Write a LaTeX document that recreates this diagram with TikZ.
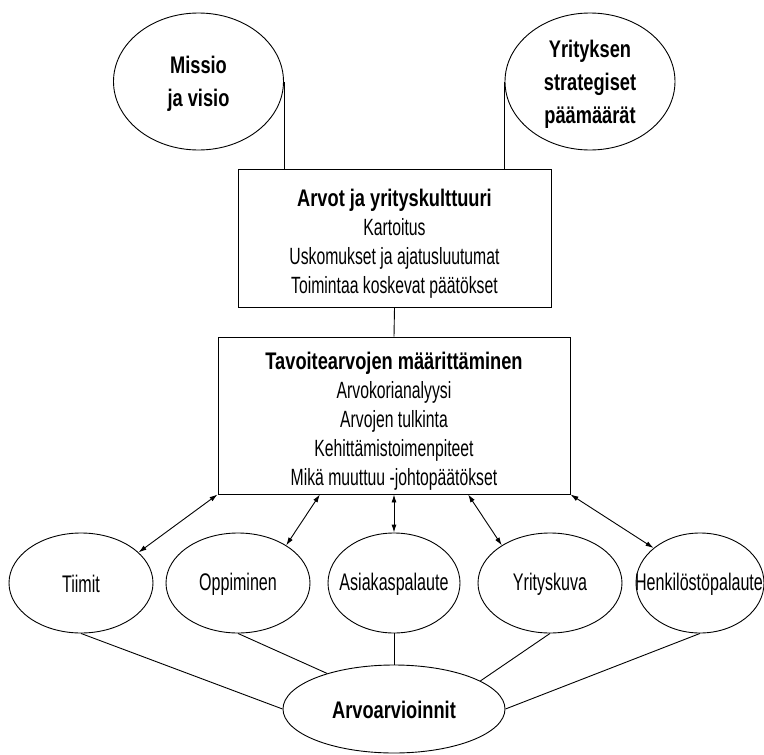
\documentclass[tikz,border=0pt]{standalone}
\usepackage{fontspec}
\setmainfont[FakeStretch=0.67, BoldFeatures={FakeStretch=0.76}]{Liberation Sans}
\usetikzlibrary{shapes.geometric,arrows.meta,calc}
\begin{document}
\begin{tikzpicture}[x=1pt,y=-1pt,
  every node/.style={inner sep=0pt},
  oval/.style={draw, ellipse, line width=0.9pt},
  box/.style={draw, rectangle, line width=0.9pt},
  boxtext/.style={align=center, font=\fontsize{23.5}{29}\selectfont},
  conn/.style={line width=0.9pt},
  biarrow/.style={line width=0.9pt, {Latex[length=8pt,width=5pt]}-{Latex[length=8pt,width=5pt]}},
  big/.style={font=\bfseries\fontsize{24}{33}\selectfont, align=center},
  small/.style={font=\fontsize{24}{26}\selectfont}]
\useasboundingbox (0,0) rectangle (764,755);

% top ellipses
\node[oval, minimum width=170pt, minimum height=137pt] (missio) at (198.5,81.5) {};
\node[big] (missiot) at (198.5,84) {Missio\\ja visio};
\node[oval, minimum width=170pt, minimum height=137pt] (yrit) at (590,81.5) {};
\node[big] (yritt) at (590,84) {Yrityksen\\strategiset\\päämäärät};

% boxes
\node[box, minimum width=313pt, minimum height=138pt] (box1) at (394.5,238) {};
\node[boxtext] (box1t) at (394.5,244)
  {{\bfseries\fontsize{24}{29}\selectfont Arvot ja yrityskulttuuri}\\Kartoitus\\Uskomukset ja ajatusluutumat\\Toimintaa koskevat päätökset};
\node[box, minimum width=352pt, minimum height=157pt] (box2) at (394,415.5) {};
\node[boxtext] (box2t) at (394,421.5)
  {{\bfseries\fontsize{24}{29}\selectfont Tavoitearvojen määrittäminen}\\Arvokorianalyysi\\Arvojen tulkinta\\Kehittämistoimenpiteet\\Mikä muuttuu -johtopäätökset};

% small ellipses
\node[oval, minimum width=144pt, minimum height=100pt] (tiimit) at (81,583) {};
\node[small] (tiimitt) at (81,584) {Tiimit};
\node[oval, minimum width=144pt, minimum height=100pt] (opp) at (238,583) {};
\node[small] (oppt) at (238,584) {Oppiminen};
\node[oval, minimum width=132pt, minimum height=100pt] (asiak) at (394,583) {};
\node[small] (asiakt) at (394,584) {Asiakaspalaute};
\node[oval, minimum width=128pt, minimum height=100pt] (henk) at (700,583) {};
\node[small] (henkt) at (699,584) {Henkilöstöpalaute};
\node[oval, minimum width=144pt, minimum height=100pt] (yk) at (550,583) {};
\node[small] (ykt) at (550,584) {Yrityskuva};

% bottom ellipse
\node[oval, minimum width=222pt, minimum height=88pt] (arvo) at (394,709) {};
\node[big] (arvot) at (394,710) {Arvoarvioinnit};

% connectors top
\draw[conn] (missio.east) -- (missio.east |- box1.north);
\draw[conn] (yrit.west) -- (yrit.west |- box1.north);
\draw[conn] (box1.south) -- (box2.north);

% arrows
\draw[biarrow] (box2.south west) -- (tiimit.28);
\draw[biarrow] ($(box2.south west)!0.29!(box2.south east)$) -- (opp.38);
\draw[biarrow] (box2.south) -- (asiak.north);
\draw[biarrow] ($(box2.south west)!0.71!(box2.south east)$) -- (yk.142);
\draw[biarrow] (box2.south east) -- (henk.143);

% bottom lines
\draw[conn] (tiimit.south) -- (arvo.west);
\draw[conn] (opp.south) -- (arvo.152);
\draw[conn] (asiak.south) -- (arvo.north);
\draw[conn] (yk.south) -- (arvo.18);
\draw[conn] (henk.south) -- (arvo.east);
\end{tikzpicture}
\end{document}
